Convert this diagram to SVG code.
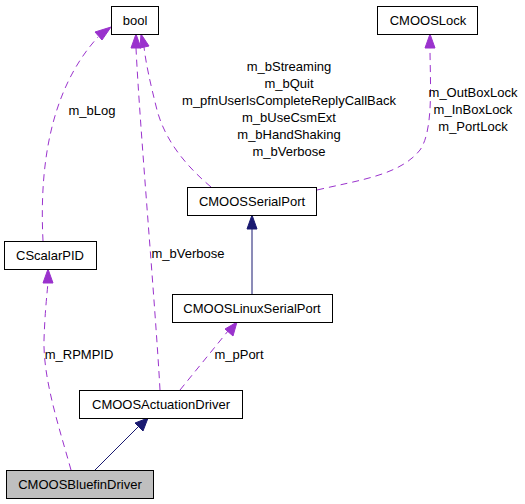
<svg xmlns="http://www.w3.org/2000/svg" width="525" height="504" viewBox="0 0 525 504">
<defs>
<style>
text{font-family:"Liberation Sans",Arial,sans-serif;font-size:13px;fill:#000;text-anchor:middle}
.box{fill:#fff;stroke:#000;stroke-width:1}
.cur{fill:#bfbfbf}
.use{fill:none;stroke:#9a32cd;stroke-width:1;stroke-dasharray:7,5}
.inh{fill:none;stroke:#191970;stroke-width:1}
.ap{fill:#9a32cd;stroke:#9a32cd}
.an{fill:#191970;stroke:#191970}
</style>
</defs>
<rect width="525" height="504" fill="#fff"/>
<g id="connectors">
<!-- inheritance -->
<path class="inh" d="M95,470 L139,426"/>
<polygon class="an" points="148,418 143,431 135,423"/>
<path class="inh" d="M252,294 L252,228"/>
<polygon class="an" points="252,215 257,229 247,229"/>
<!-- usage -->
<path class="use" d="M71,470 C60,430 43,380 44,340 C45,310 47,295 48,282"/>
<polygon class="ap" points="48,269 53,283 43,283"/>
<path class="use" d="M43,241 C40,180 45,95 98,37"/>
<polygon class="ap" points="111,27 102,40 95,32"/>
<path class="use" d="M160,390 C155,300 140,130 136,48"/>
<polygon class="ap" points="136,34 141,48 131,48"/>
<path class="use" d="M211,187 C185,165 165,140 157,110 C150,82 146,64 144,47"/>
<polygon class="ap" points="141,34 149,46 140,48"/>
<path class="use" d="M317,190 C360,180 400,175 420,150 C434,130 430,80 430,48"/>
<polygon class="ap" points="430,34 435,48 425,48"/>
<path class="use" d="M180,390 L228,331"/>
<polygon class="ap" points="237,322 233,336 225,329"/>
</g>
<g id="labels">
<text x="92" y="115">m_bLog</text>
<text x="289" y="71">m_bStreaming</text>
<text x="289" y="88">m_bQuit</text>
<text x="289" y="105">m_pfnUserIsCompleteReplyCallBack</text>
<text x="289" y="122">m_bUseCsmExt</text>
<text x="289" y="139">m_bHandShaking</text>
<text x="289" y="156">m_bVerbose</text>
<text x="473" y="97">m_OutBoxLock</text>
<text x="473" y="114">m_InBoxLock</text>
<text x="473" y="131">m_PortLock</text>
<text x="188" y="258">m_bVerbose</text>
<text x="79" y="359">m_RPMPID</text>
<text x="239" y="359">m_pPort</text>
</g>
<g id="node-bool"><rect class="box" x="111.5" y="6.5" width="47" height="28"/><text x="135" y="25">bool</text></g>
<g id="node-CMOOSLock"><rect class="box" x="377.5" y="6.5" width="100" height="28"/><text x="428" y="25">CMOOSLock</text></g>
<g id="node-CMOOSSerialPort"><rect class="box" x="187.5" y="187.5" width="129" height="28"/><text x="252" y="206">CMOOSSerialPort</text></g>
<g id="node-CScalarPID"><rect class="box" x="4.5" y="241.5" width="92" height="28"/><text x="50" y="260">CScalarPID</text></g>
<g id="node-CMOOSLinuxSerialPort"><rect class="box" x="172.5" y="294.5" width="160" height="28"/><text x="252" y="313">CMOOSLinuxSerialPort</text></g>
<g id="node-CMOOSActuationDriver"><rect class="box" x="79.5" y="390.5" width="163" height="28"/><text x="161" y="409">CMOOSActuationDriver</text></g>
<g id="node-CMOOSBluefinDriver"><rect class="box cur" x="6.5" y="470.5" width="147" height="28"/><text x="80" y="489">CMOOSBluefinDriver</text></g>
</svg>
